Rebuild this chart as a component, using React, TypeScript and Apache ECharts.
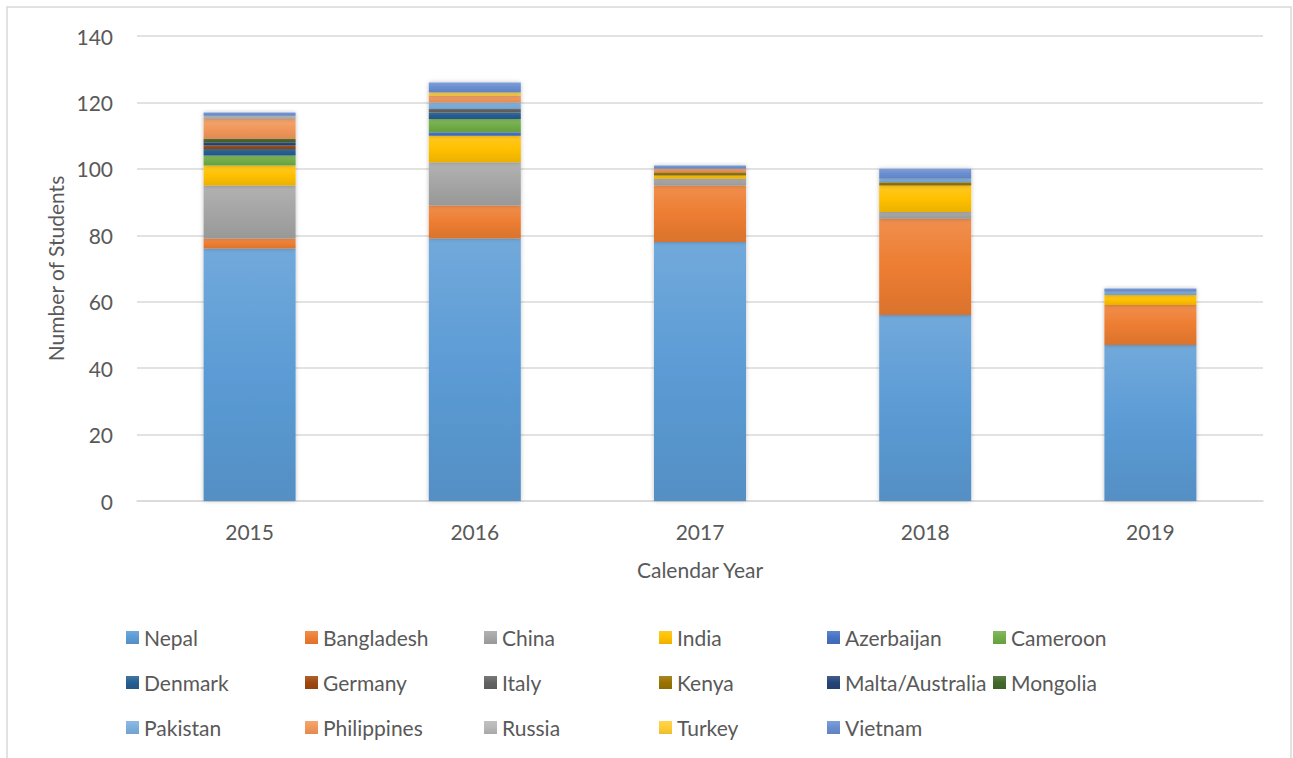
import React, { useEffect, useRef } from "react";
import * as echarts from "echarts";

const years = ["2015", "2016", "2017", "2018", "2019"];
const countries = [
  "Nepal", "Bangladesh", "China", "India", "Azerbaijan", "Cameroon",
  "Denmark", "Germany", "Italy", "Kenya", "Malta/Australia", "Mongolia",
  "Pakistan", "Philippines", "Russia", "Turkey", "Vietnam",
];
const nepal = [76, 79, 78, 56, 47];
const bangladesh = [3, 10, 17, 29, 12];
const china = [16, 13, 2, 2, 0];
const india = [6, 8, 1, 8, 3];
const azerbaijan = [0, 1, 0, 0, 0];
const cameroon = [3, 4, 0, 0, 0];
const denmark = [2, 2, 0, 0, 0];
const germany = [1, 0, 0, 0, 0];
const italy = [0, 1, 0, 0, 0];
const kenya = [0, 0, 1, 1, 0];
const maltaAustralia = [1, 0, 0, 0, 0];
const mongolia = [1, 0, 0, 0, 0];
const pakistan = [0, 2, 0, 1, 1];
const philippines = [6, 2, 1, 0, 0];
const russia = [1, 0, 0, 0, 0];
const turkey = [0, 1, 0, 0, 0];
const vietnam = [1, 3, 1, 3, 1];
const yTicks = [0, 20, 40, 60, 80, 100, 120, 140];

const seriesValues = [
  nepal, bangladesh, china, india, azerbaijan, cameroon, denmark, germany,
  italy, kenya, maltaAustralia, mongolia, pakistan, philippines, russia, turkey, vietnam,
];
const colors = [
  "#5B9BD5", "#ED7D31", "#A5A5A5", "#FFC000", "#4472C4", "#70AD47",
  "#255E91", "#9E480E", "#636363", "#997300", "#264478", "#43682B",
  "#7CAFDD", "#F1975A", "#B7B7B7", "#FFCD33", "#698ED0",
];

function mix(hex: string, target: number, t: number) {
  const n = parseInt(hex.slice(1), 16);
  const r = (n >> 16) & 255, g = (n >> 8) & 255, b = n & 255;
  const f = (c: number) => Math.round(c + (target - c) * t);
  return `rgb(${f(r)},${f(g)},${f(b)})`;
}
function grad(hex: string) {
  return new echarts.graphic.LinearGradient(0, 0, 0, 1, [
    { offset: 0, color: mix(hex, 255, 0.14) },
    { offset: 0.5, color: hex },
    { offset: 1, color: mix(hex, 0, 0.08) },
  ]);
}

const FONT = "Lato";
const TXT = "#595959";
const legendCols = [121, 300, 479, 654, 822, 988];

export default function App() {
  const ref = useRef<HTMLDivElement>(null);
  useEffect(() => {
    if (!ref.current) return;
    const chart = echarts.init(ref.current, undefined, { renderer: "svg" });
    const legends = legendCols.map((left, c) => ({
      orient: "vertical" as const,
      left,
      top: 622,
      itemWidth: 13,
      itemHeight: 13,
      itemGap: 24,
      data: countries.filter((_, i) => i % 6 === c),
      textStyle: { fontFamily: FONT, fontSize: 21, color: TXT, lineHeight: 20 },
      icon: "rect",
    }));
    chart.setOption({
      animation: false,
      backgroundColor: "#fff",
      textStyle: { fontFamily: FONT },
      grid: { left: 137, right: 30, top: 36, bottom: 257, containLabel: false },
      legend: legends,
      xAxis: {
        type: "category",
        data: years,
        name: "Calendar Year",
        nameLocation: "middle",
        nameGap: 58,
        nameTextStyle: { fontFamily: FONT, fontSize: 21, color: TXT },
        axisLine: { lineStyle: { color: "#D9D9D9", width: 1.5 } },
        axisTick: { show: false },
        axisLabel: { fontFamily: FONT, fontSize: 21, color: TXT, margin: 20 },
      },
      yAxis: {
        type: "value",
        min: yTicks[0],
        max: yTicks[yTicks.length - 1],
        interval: 20,
        name: "Number of Students",
        nameLocation: "middle",
        nameGap: 71,
        nameTextStyle: { fontFamily: FONT, fontSize: 21, color: TXT },
        axisLine: { show: false },
        axisTick: { show: false },
        axisLabel: { fontFamily: FONT, fontSize: 21, color: TXT, margin: 24 },
        splitLine: { lineStyle: { color: "#D9D9D9", width: 1.5 } },
      },
      graphic: [
        {
          type: "rect",
          shape: { x: 7, y: 7, width: 1284, height: 780 },
          style: { fill: "none", stroke: "#D9D9D9", lineWidth: 1.5 },
          silent: true,
        },
      ],
      series: countries.map((name, i) => ({
        name,
        type: "bar",
        stack: "total",
        barWidth: 92,
        data: seriesValues[i].map((v) => (v === 0 ? null : v)),
        itemStyle: {
          color: grad(colors[i]),
          shadowBlur: 4,
          shadowColor: "rgba(0,0,0,0.25)",
        },
      })),
    });
    return () => chart.dispose();
  }, []);
  return (
    <div
      ref={ref}
      style={{ position: "absolute", left: 0, top: 0, width: 1293, height: 758 }}
    />
  );
}
